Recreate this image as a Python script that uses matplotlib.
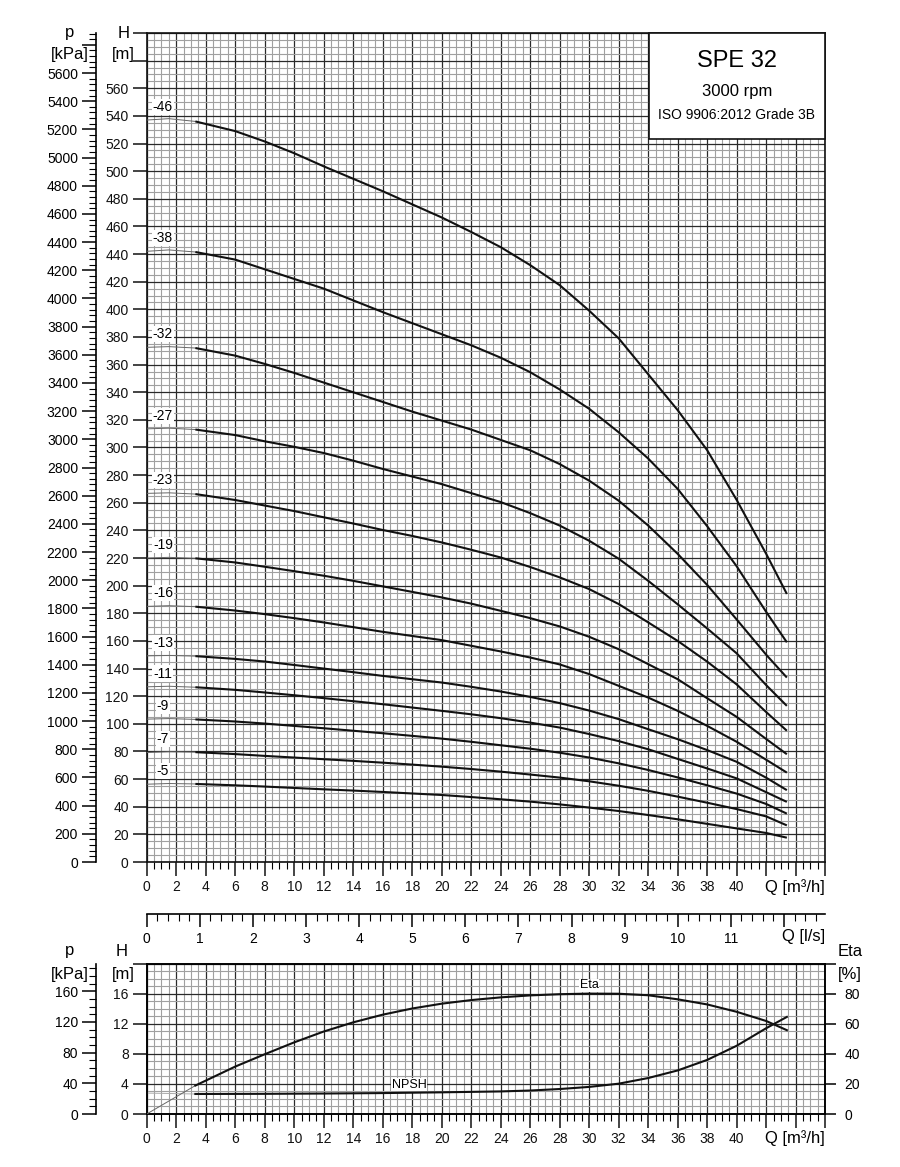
import matplotlib
matplotlib.use('Agg')
import matplotlib.pyplot as plt
from matplotlib.ticker import MultipleLocator, FuncFormatter
from matplotlib.patches import Rectangle

plt.rcParams['font.family'] = ['Liberation Sans', 'DejaVu Sans']

# ---------------- data ----------------
Q_pts = [0, 1.5, 3.3, 6, 8, 10, 12, 14, 16, 18, 20, 22, 24, 26, 28, 30, 32, 34, 36, 38, 40, 42, 43.4]
N_THIN = 3  # first points drawn as thin line

stage_labels = ['-46', '-38', '-32', '-27', '-23', '-19', '-16', '-13', '-11', '-9', '-7', '-5']
H_46 = [537, 538, 536, 529, 521.5, 513, 503.5, 494.5, 485.5, 476, 466.5, 456, 445, 432, 417.5, 399, 379, 353, 327, 298, 262, 223, 194]
H_38 = [442, 443, 441.5, 436, 429, 422, 415, 406.5, 398, 390, 382, 374, 365, 354.5, 342, 328, 311, 292, 270, 243, 214, 181, 159]
H_32 = [372.5, 373, 372, 366.5, 360.5, 354, 347, 340, 333, 326, 319.5, 313, 305.5, 298, 288, 276, 261.5, 243.5, 223, 200.5, 175.5, 150, 133.5]
H_27 = [313.5, 314, 313, 309, 304.5, 300.5, 296, 290.5, 284.5, 279, 273.5, 267, 260.5, 252.5, 243.5, 232.5, 219.5, 203.5, 186.5, 169, 151, 128, 113]
H_23 = [266.8, 267.2, 266.3, 262, 258, 254, 249.5, 245, 240.3, 236, 231.3, 226, 220.4, 213.5, 206, 197.5, 186.7, 173.4, 160, 145, 128.5, 108.5, 95]
H_19 = [220, 220.5, 219.8, 216.8, 213.7, 210.5, 207.2, 203.5, 199.5, 195.5, 191.5, 187, 181.8, 176.5, 170.5, 163, 154, 143.2, 132.3, 118.5, 105, 89, 78]
H_16 = [185, 185.5, 184.8, 182, 179.4, 176.5, 173.4, 170, 166.6, 163.6, 160.6, 156.5, 152.4, 148, 143, 136, 127.5, 119, 109.4, 98.5, 87, 74, 64.7]
H_13 = [149.2, 149.5, 149, 147, 145.1, 142.6, 140, 137.4, 134.7, 132.3, 129.9, 126.8, 123.4, 119.5, 115, 109.6, 103.4, 96.1, 88.9, 81, 72.5, 61, 52]
H_11 = [126.8, 127.2, 126.5, 124.6, 122.7, 120.7, 118.6, 116.4, 114.2, 111.8, 109.4, 106.9, 104.1, 100.9, 97.3, 92.6, 87.5, 81.6, 74.6, 67.7, 60.5, 50.5, 43.5]
H_9 = [103.4, 103.8, 103.2, 101.7, 100.2, 98.5, 96.8, 95, 93.2, 91.3, 89.3, 87, 84.5, 82, 79.1, 75.6, 71.4, 66.6, 61.2, 55.5, 49.5, 42, 35]
H_7 = [79.2, 79.8, 79.5, 78.1, 76.8, 75.6, 74.4, 73.2, 71.9, 70.5, 69, 67.3, 65.4, 63.3, 61.1, 58.4, 55.2, 51.5, 47.3, 42.9, 38.3, 33, 26.5]
H_5 = [56.3, 56.8, 56.5, 55.5, 54.6, 53.6, 52.6, 51.7, 50.7, 49.6, 48.5, 47, 45.4, 43.7, 41.7, 39.4, 36.9, 34, 30.9, 27.6, 24.3, 21, 17.6]
H_curves = [H_46, H_38, H_32, H_27, H_23, H_19, H_16, H_13, H_11, H_9, H_7, H_5]

Q_eta = [0, 3.3, 6, 8, 10, 12, 14, 16, 18, 20, 22, 24, 26, 28, 30, 32, 34, 36, 38, 40, 42, 43.4]
Eta = [0, 18.9, 31.5, 39.7, 47.6, 54.8, 60.9, 66.0, 70.1, 73.3, 75.7, 77.5, 78.8, 79.6, 80.0, 79.9, 78.9, 76.2, 72.8, 67.9, 61.8, 55.7]
N_THIN_ETA = 2

Q_npsh = [0, 3.3, 8, 12, 16, 20, 24, 26, 28, 30, 32, 34, 36, 38, 40, 42, 43.4]
NPSH = [2.78, 2.66, 2.68, 2.72, 2.78, 2.88, 3.0, 3.12, 3.32, 3.6, 4.03, 4.78, 5.79, 7.19, 9.07, 11.4, 12.9]
N_THIN_NPSH = 2

RHO_G = 9.80665  # kPa per m
M3H_PER_LS = 3.6

# ---------------- layout helpers ----------------
W, HP = 900, 1167
fig = plt.figure(figsize=(9, 11.67), dpi=100)
fig.patch.set_facecolor('white')


def fx(px):
    return px / W


def fy(py):
    return 1 - py / HP


X0, X1 = 146.7, 825.2
Q_MAX = 46
TOP_B, TOP_T = 862, 33
BOT_B, BOT_T = 1114, 963.5
MAJ_C, MIN_C = '#2a2a2a', '#a0a0a0'
TICK_FS = 10
UNIT_FS = 12
CURVE_LW = 1.5


def style_grid(ax, ymaj, ymin):
    ax.set_xlim(0, Q_MAX)
    ax.xaxis.set_major_locator(MultipleLocator(2))
    ax.xaxis.set_minor_locator(MultipleLocator(0.5))
    ax.yaxis.set_major_locator(MultipleLocator(ymaj))
    ax.yaxis.set_minor_locator(MultipleLocator(ymin))
    ax.grid(which='minor', color=MIN_C, lw=0.8, zorder=0)
    ax.grid(which='major', color=MAJ_C, lw=0.9, zorder=0)
    ax.set_axisbelow(True)
    for s in ax.spines.values():
        s.set_linewidth(1.2)
        s.set_color('#111')
    ax.tick_params(axis='both', which='major', direction='out', length=10, width=1.1,
                   labelsize=TICK_FS, pad=3, colors='#111')
    ax.tick_params(axis='x', which='minor', direction='out', length=5, width=0.8)
    ax.tick_params(axis='y', which='minor', length=0)
    ax.xaxis.set_major_formatter(FuncFormatter(lambda v, p: f'{v:.0f}' if v <= 40.5 else ''))


def p_axis(bottom, top, hmax, maj, minr, labmax):
    a = fig.add_axes([fx(96), fy(bottom), 0.0001, (bottom - top) / HP])
    a.set_ylim(0, hmax * RHO_G)
    a.patch.set_visible(False)
    for k in ['top', 'right', 'bottom']:
        a.spines[k].set_visible(False)
    a.spines['left'].set_linewidth(1.2)
    a.set_xticks([])
    a.yaxis.set_major_locator(MultipleLocator(maj))
    a.yaxis.set_minor_locator(MultipleLocator(minr))
    a.yaxis.set_major_formatter(FuncFormatter(lambda v, p: f'{v:.0f}' if v <= labmax + 1 else ''))
    a.tick_params(axis='y', which='major', direction='out', length=10, width=1.1, labelsize=TICK_FS, pad=3)
    a.tick_params(axis='y', which='minor', direction='out', length=5, width=0.8)
    return a


# ---------------- top chart ----------------
ax1 = fig.add_axes([fx(X0), fy(TOP_B), (X1 - X0) / W, (TOP_B - TOP_T) / HP])
style_grid(ax1, 20, 5)
ax1.set_ylim(0, 600)
ax1.yaxis.set_major_formatter(FuncFormatter(lambda v, p: f'{v:.0f}' if v <= 561 else ''))

for lab, H in zip(stage_labels, H_curves):
    ax1.plot(Q_pts[:N_THIN], H[:N_THIN], color='#666', lw=0.7, zorder=3)
    ax1.plot(Q_pts[N_THIN - 1:], H[N_THIN - 1:], color='#111', lw=CURVE_LW, zorder=3,
             solid_capstyle='butt', solid_joinstyle='round')
    ax1.annotate(lab, xy=(1.1, H[0]), xytext=(0, 9.5), textcoords='offset points',
                 ha='center', va='center', fontsize=10, zorder=4,
                 bbox=dict(boxstyle='square,pad=0.08', fc='white', ec='none'))

p_axis(TOP_B, TOP_T, 600, 200, 40, 5600)

# title box
ax1.add_patch(Rectangle((fx(649), fy(139)), fx(825) - fx(649), fy(33) - fy(139),
                        transform=fig.transFigure, fc='white', ec='#111', lw=1.2,
                        zorder=6, clip_on=False))
fig.text(fx(737), fy(67), 'SPE 32', ha='center', va='baseline', fontsize=17, zorder=7)
fig.text(fx(737), fy(96), '3000 rpm', ha='center', va='baseline', fontsize=12, zorder=7)
fig.text(fx(737), fy(119), 'ISO 9906:2012 Grade 3B', ha='center', va='baseline', fontsize=10, zorder=7)

# axis unit labels (top)
fig.text(fx(124), fy(34), 'H', ha='center', va='center', fontsize=UNIT_FS)
fig.text(fx(123), fy(54), '[m]', ha='center', va='center', fontsize=UNIT_FS)
fig.text(fx(70), fy(33), 'p', ha='center', va='center', fontsize=UNIT_FS)
fig.text(fx(70), fy(54), '[kPa]', ha='center', va='center', fontsize=UNIT_FS)
fig.text(fx(X1), fy(887), 'Q [m³/h]', ha='right', va='center', fontsize=UNIT_FS)

# ---------------- l/s scale ----------------
axl = fig.add_axes([fx(X0), fy(914), (X1 - X0) / W, 0.0001])
axl.set_xlim(0, Q_MAX / M3H_PER_LS)
axl.patch.set_visible(False)
for k in ['top', 'right', 'left']:
    axl.spines[k].set_visible(False)
axl.spines['bottom'].set_linewidth(1.2)
axl.set_yticks([])
axl.xaxis.set_major_locator(MultipleLocator(1))
axl.xaxis.set_minor_locator(MultipleLocator(0.2))
axl.xaxis.set_major_formatter(FuncFormatter(lambda v, p: f'{v:.0f}' if v <= 11.5 else ''))
axl.tick_params(axis='x', which='major', direction='out', length=9, width=1.1, labelsize=TICK_FS, pad=4)
axl.tick_params(axis='x', which='minor', direction='out', length=5, width=0.8)
fig.text(fx(X1), fy(936), 'Q [l/s]', ha='right', va='center', fontsize=UNIT_FS)

# ---------------- bottom chart ----------------
ax2 = fig.add_axes([fx(X0), fy(BOT_B), (X1 - X0) / W, (BOT_B - BOT_T) / HP])
style_grid(ax2, 4, 1)
ax2.set_ylim(0, 20)
ax2.yaxis.set_major_formatter(FuncFormatter(lambda v, p: f'{v:.0f}' if v <= 16.5 else ''))

ax2r = ax2.twinx()
ax2r.set_ylim(0, 100)
ax2r.yaxis.set_major_locator(MultipleLocator(20))
ax2r.yaxis.set_minor_locator(MultipleLocator(5))
ax2r.yaxis.set_major_formatter(FuncFormatter(lambda v, p: f'{v:.0f}' if v <= 81 else ''))
ax2r.tick_params(axis='y', which='major', direction='out', length=8, width=1.1, labelsize=TICK_FS, pad=6)
ax2r.tick_params(axis='y', which='minor', direction='out', length=0)
for s in ax2r.spines.values():
    s.set_linewidth(1.2)

ax2r.plot(Q_eta[:N_THIN_ETA], Eta[:N_THIN_ETA], color='#666', lw=0.7, zorder=3)
ax2r.plot(Q_eta[N_THIN_ETA - 1:], Eta[N_THIN_ETA - 1:], color='#111', lw=CURVE_LW, zorder=3,
          solid_joinstyle='round')
ax2.plot(Q_npsh[:N_THIN_NPSH], NPSH[:N_THIN_NPSH], color='#aaa', lw=0.7, zorder=3)
ax2.plot(Q_npsh[N_THIN_NPSH - 1:], NPSH[N_THIN_NPSH - 1:], color='#111', lw=CURVE_LW, zorder=3,
         solid_joinstyle='round')

ax2r.text(30.0, 81.5, 'Eta', ha='center', va='bottom', fontsize=9,
          bbox=dict(boxstyle='square,pad=0.05', fc='white', ec='none'))
ax2.text(17.8, 3.1, 'NPSH', ha='center', va='bottom', fontsize=9,
         bbox=dict(boxstyle='square,pad=0.05', fc='white', ec='none'))

p_axis(BOT_B, BOT_T, 20, 40, 10, 160)

fig.text(fx(122), fy(952), 'H', ha='center', va='center', fontsize=UNIT_FS)
fig.text(fx(123), fy(974), '[m]', ha='center', va='center', fontsize=UNIT_FS)
fig.text(fx(70), fy(951), 'p', ha='center', va='center', fontsize=UNIT_FS)
fig.text(fx(70), fy(974), '[kPa]', ha='center', va='center', fontsize=UNIT_FS)
fig.text(fx(850), fy(952), 'Eta', ha='center', va='center', fontsize=UNIT_FS)
fig.text(fx(850), fy(974), '[%]', ha='center', va='center', fontsize=UNIT_FS)
fig.text(fx(X1), fy(1138), 'Q [m³/h]', ha='right', va='center', fontsize=UNIT_FS)

fig.savefig('out.png', dpi=100, facecolor='white')
